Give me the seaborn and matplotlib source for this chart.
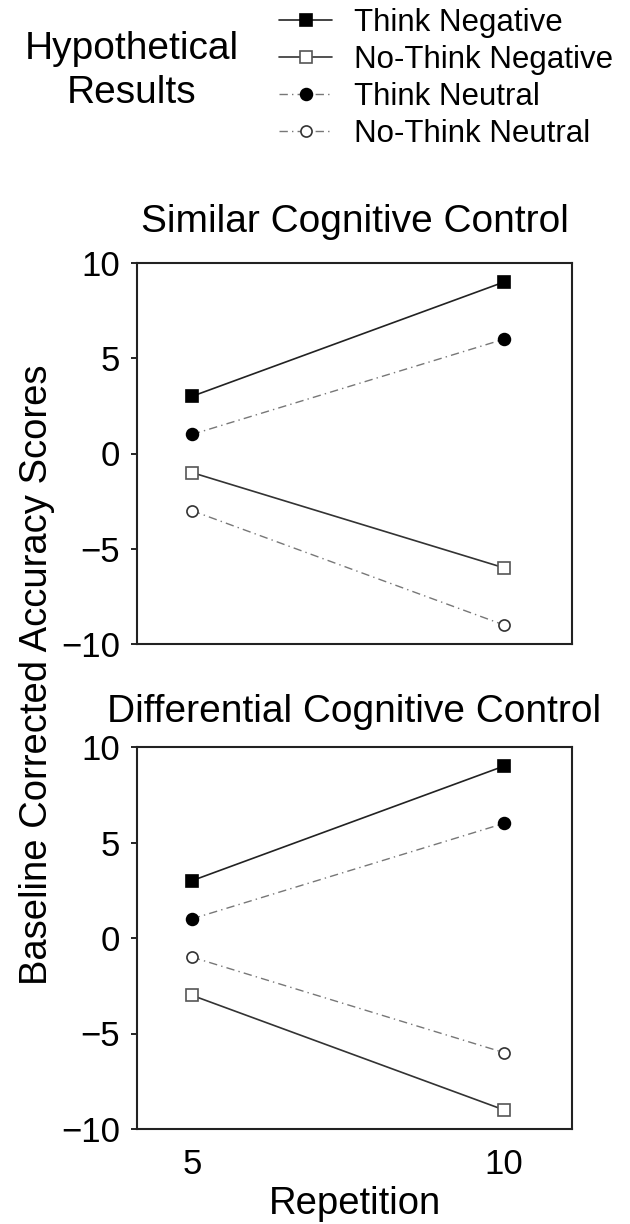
import matplotlib
matplotlib.use("Agg")
import matplotlib.pyplot as plt
import seaborn as sns

# ==============================
# Data
# ==============================
repetition = [5, 10]
series_names = ["Think Negative", "No-Think Negative", "Think Neutral", "No-Think Neutral"]

similar_think_neg = [3, 9]
similar_nothink_neg = [-1, -6]
similar_think_neu = [1, 6]
similar_nothink_neu = [-3, -9]

diff_think_neg = [3, 9]
diff_nothink_neg = [-3, -9]
diff_think_neu = [1, 6]
diff_nothink_neu = [-1, -6]

y_ticks = [-10, -5, 0, 5, 10]

# ==============================
# Style
# ==============================
sns.set_style("white")
plt.rcParams['font.family'] = ['Liberation Sans', 'DejaVu Sans']
plt.rcParams['text.color'] = 'black'
plt.rcParams['axes.labelcolor'] = 'black'
plt.rcParams['xtick.color'] = 'black'
plt.rcParams['ytick.color'] = 'black'

dashdot = (0, (6, 3, 1, 3))
styles = {
    "Think Negative": dict(color="#222222", linestyle="-", marker="s", mfc="black", mec="black", ms=9, lw=1.2),
    "No-Think Negative": dict(color="#333333", linestyle="-", marker="s", mfc="white", mec="#555555", ms=9, lw=1.2),
    "Think Neutral": dict(color="#777777", linestyle=dashdot, marker="o", mfc="black", mec="black", ms=8.5, lw=1.0),
    "No-Think Neutral": dict(color="#777777", linestyle=dashdot, marker="o", mfc="white", mec="#333333", ms=8, lw=1.0),
}

fig = plt.figure(figsize=(6.3, 12.24), dpi=100)
W, H = 630, 1224
ax1 = fig.add_axes([137 / W, 1 - 644 / H, 435 / W, 381 / H])
ax2 = fig.add_axes([137 / W, 1 - 1129 / H, 435 / W, 382 / H])


def draw(ax, values, title, pad):
    for name, vals in zip(series_names, values):
        st = styles[name]
        sns.lineplot(x=repetition, y=vals, ax=ax, color=st["color"], linestyle=st["linestyle"],
                     linewidth=st["lw"], marker=st["marker"], markersize=st["ms"],
                     markerfacecolor=st["mfc"], markeredgecolor=st["mec"], markeredgewidth=1.2,
                     label=name, legend=False)
    ax.set_xlim(4.12, 11.09)
    ax.set_ylim(-10, 10)
    ax.set_yticks(y_ticks)
    ax.set_yticklabels([str(t).replace("-", "\u2212") for t in y_ticks])
    ax.set_title(title, fontsize=28, pad=pad)
    ax.tick_params(axis="y", labelsize=25, length=4, width=1.2, direction="out", left=True, pad=8)
    for sp in ax.spines.values():
        sp.set_linewidth(1.5)
        sp.set_color("#222222")


draw(ax1, [similar_think_neg, similar_nothink_neg, similar_think_neu, similar_nothink_neu],
     "Similar Cognitive Control", 22)
draw(ax2, [diff_think_neg, diff_nothink_neg, diff_think_neu, diff_nothink_neu],
     "Differential Cognitive Control", 18)

ax1.set_xticks([])
ax2.set_xticks(repetition)
ax2.set_xticklabels(["5", "10"])
ax2.tick_params(axis="x", labelsize=25, length=0, pad=14)
ax2.set_xlabel("Repetition", fontsize=27.5, labelpad=3)

fig.text(37 / W, 1 - 675 / H, "Baseline Corrected Accuracy Scores", rotation=90,
         fontsize=27.5, ha="center", va="center")

# Legend
handles, labels = ax1.get_legend_handles_labels()
fig.legend(handles, labels, loc="upper left", bbox_to_anchor=(279 / W, 1 - 8 / H),
           frameon=False, fontsize=22.5, handlelength=1.7, handletextpad=0.7,
           labelspacing=0.22, borderaxespad=0, borderpad=0, markerscale=1.0)
fig.text(132 / W, 1 - 71 / H, "Hypothetical\nResults", fontsize=28, ha="center", va="center",
         linespacing=1.28)

fig.savefig("out.png", dpi=100)
